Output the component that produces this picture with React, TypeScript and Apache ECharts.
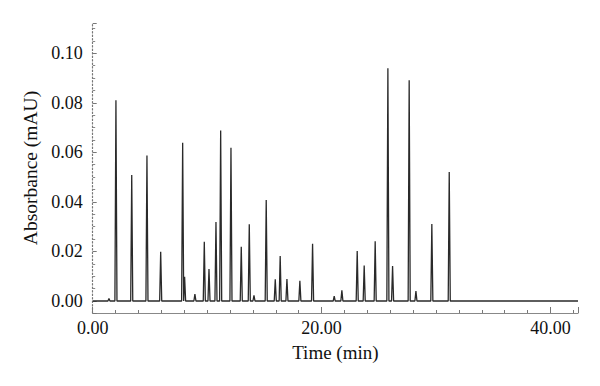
import React, { useEffect, useRef } from "react";
import * as echarts from "echarts";

// Peak retention times (min) and heights (mAU)
const peakTimes = [
  1.42, 2.03, 3.41, 4.74, 5.94, 7.86, 8.03, 8.93, 9.75, 10.16, 10.77, 11.18,
  12.08, 12.98, 13.68, 14.09, 15.16, 15.95, 16.38, 16.97, 18.1, 19.21, 21.1,
  21.77, 23.11, 23.72, 24.68, 25.79, 26.2, 27.65, 28.24, 29.63, 31.15,
];
const peakHeights = [
  0.001, 0.081, 0.0509, 0.0587, 0.0199, 0.0639, 0.0098, 0.0028, 0.0239,
  0.0129, 0.0319, 0.0688, 0.0619, 0.0219, 0.031, 0.0023, 0.0408, 0.0088,
  0.0182, 0.0089, 0.0082, 0.0231, 0.002, 0.0043, 0.0202, 0.0143, 0.0241,
  0.0939, 0.0141, 0.0891, 0.004, 0.0311, 0.0521,
];
const runStart = 0;
const runEnd = 42.4;
const xTickLabels = [0, 20, 40];

const FONT = "'Liberation Serif', 'DejaVu Serif', serif";

export default function App() {
  const ref = useRef<HTMLDivElement>(null);

  useEffect(() => {
    if (!ref.current) return;
    const chart = echarts.init(ref.current, undefined, { renderer: "svg" });
    const hw = 0.09;
    const data: number[][] = [[runStart, 0]];
    peakTimes.forEach((t, i) => {
      data.push([t - hw, 0], [t, peakHeights[i]], [t + hw, 0]);
    });
    data.push([runEnd, 0]);

    chart.setOption({
      animation: false,
      backgroundColor: "#fff",
      grid: { left: 92.7, right: 22, top: 23, bottom: 73, containLabel: false },
      xAxis: [
        {
          type: "value",
          min: runStart,
          max: runEnd,
          interval: 2,
          name: "Time (min)",
          nameLocation: "middle",
          nameGap: 30,
          nameTextStyle: { fontFamily: FONT, fontSize: 19, color: "#111" },
          axisLine: { show: true, onZero: false, lineStyle: { color: "#888", width: 1.2 } },
          axisTick: { show: true, inside: true, length: 3, lineStyle: { color: "#777" } },
          axisLabel: {
            fontFamily: FONT,
            fontSize: 18,
            color: "#111",
            margin: 6,
            formatter: (v: number) =>
              xTickLabels.indexOf(Math.round(v * 100) / 100) >= 0 ? v.toFixed(2) : "",
          },
          splitLine: { show: false },
        },
        {
          type: "value",
          position: "bottom",
          min: runStart,
          max: runEnd,
          interval: 20,
          axisLine: { show: false, onZero: false },
          axisTick: { show: true, inside: true, length: 6, lineStyle: { color: "#777" } },
          axisLabel: { show: false },
          splitLine: { show: false },
        },
      ],
      yAxis: {
        type: "value",
        min: -0.00484,
        max: 0.1122,
        splitNumber: 6,
        name: "Absorbance (mAU)",
        nameLocation: "middle",
        nameGap: 52,
        nameTextStyle: { fontFamily: FONT, fontSize: 19.5, color: "#111" },
        axisLine: { show: true, onZero: false, lineStyle: { color: "#777", width: 1.2, type: [1.5, 2] } },
        axisTick: { show: true, inside: true, length: 4, lineStyle: { color: "#777" } },
        minorTick: { show: true, splitNumber: 4, length: 2.5, lineStyle: { color: "#888" } },
        axisLabel: {
          fontFamily: FONT,
          fontSize: 18,
          color: "#111",
          margin: 10,
          showMinLabel: false,
          showMaxLabel: false,
          formatter: (v: number) => v.toFixed(2),
        },
        splitLine: { show: false },
      },
      series: [
        {
          type: "line",
          data,
          showSymbol: false,
          symbol: "none",
          xAxisIndex: 0,
          lineStyle: { color: "#2a2a2a", width: 1.3 },
          z: 3,
        },
      ],
    });
    return () => chart.dispose();
  }, []);

  return (
    <div
      ref={ref}
      style={{ position: "fixed", left: 0, top: 0, width: 600, height: 386, background: "#fff" }}
    />
  );
}
